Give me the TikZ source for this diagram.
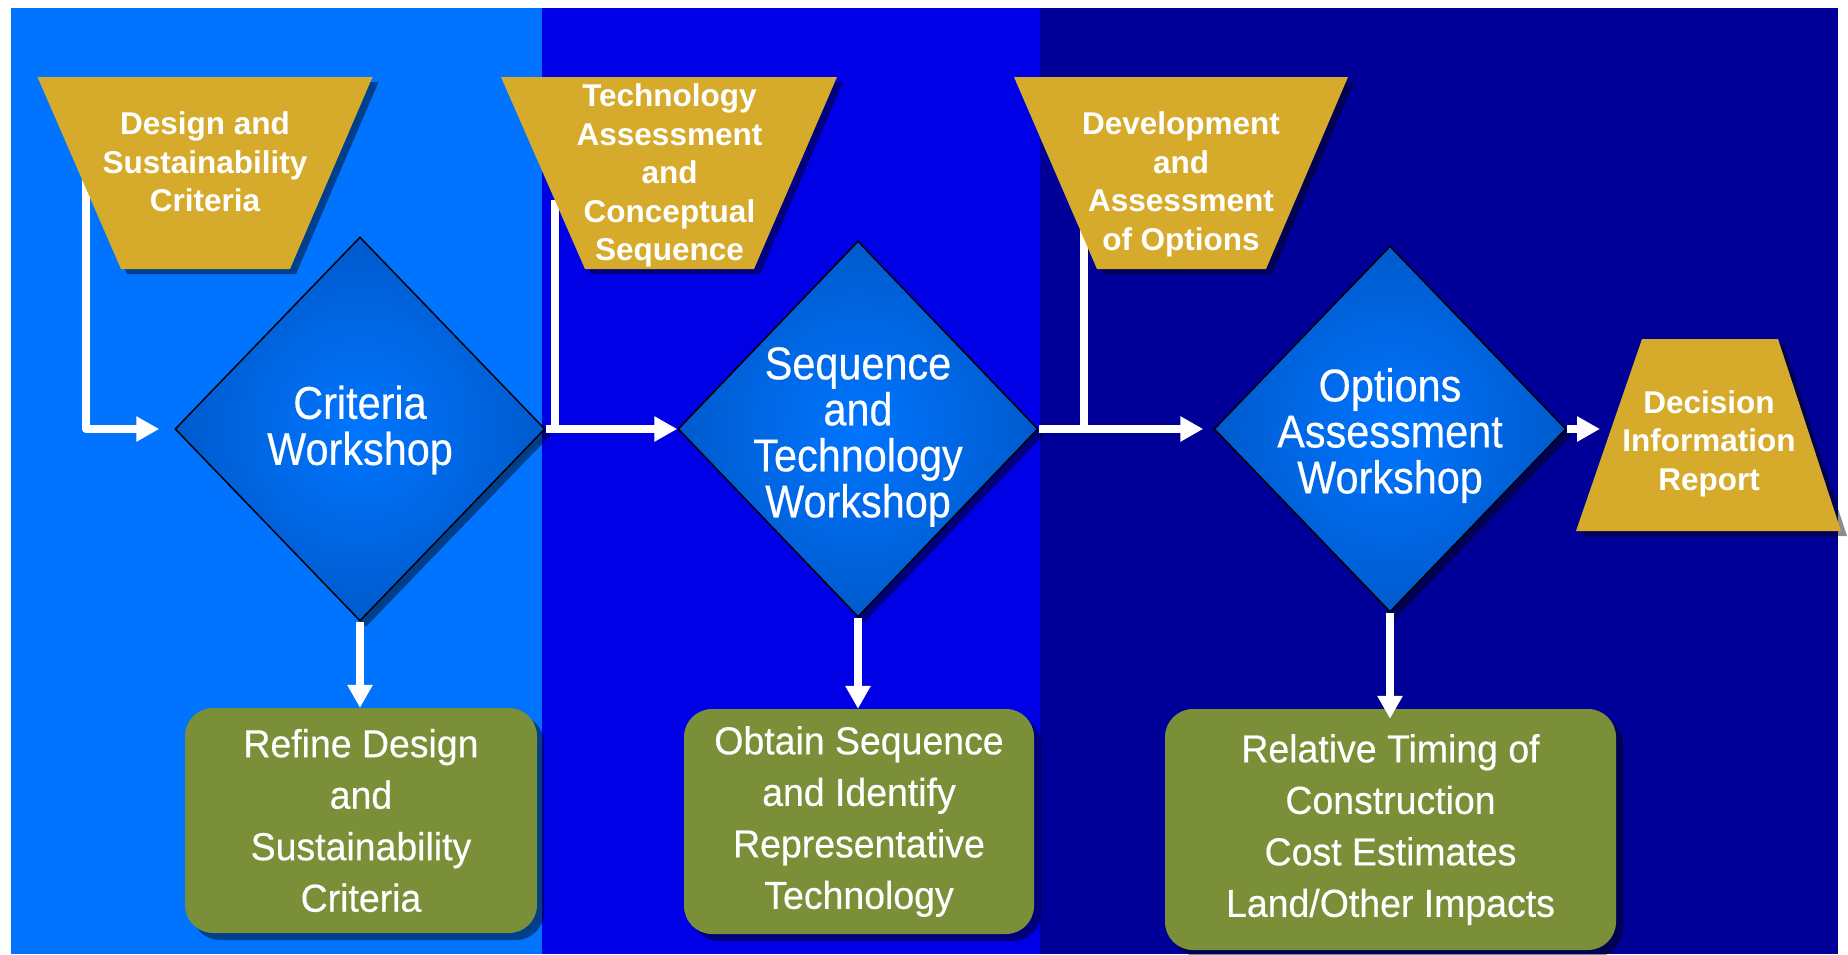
\documentclass[tikz,border=0pt]{standalone}
\usepackage{fontspec}
\setmainfont{Liberation Sans}
\newfontfamily\dfont[FakeStretch=0.9,FakeBold=0.4]{Liberation Sans}
\newfontfamily\gfont[FakeStretch=0.96,FakeBold=0.4]{Liberation Sans}
\usetikzlibrary{shapes.geometric,arrows.meta,shadows}
\definecolor{pone}{RGB}{0,115,255}
\definecolor{ptwo}{RGB}{0,0,230}
\definecolor{pthree}{RGB}{0,0,153}
\definecolor{gold}{RGB}{214,171,43}
\definecolor{olive}{RGB}{122,143,55}
\pgfdeclareradialshading{dshade}{\pgfpoint{0bp}{0bp}}{rgb(0bp)=(0,0.46,1); rgb(36bp)=(0,0.31,0.72); rgb(50bp)=(0,0.31,0.72)}
\pgfdeclarelayer{under}
\pgfsetlayers{under,main}
\begin{document}
\begin{tikzpicture}[x=1pt,y=-1pt,
  tshadow/.style={fill=black, opacity=0.45},
  trapfill/.style={fill=gold},
  traptext/.style={text=white, align=center, inner sep=0pt,
    font=\bfseries\fontsize{31.5}{38.5}\selectfont},
  dia/.style={diamond, draw=black, line width=1.5pt, shade, shading=dshade,
    inner sep=0pt, aspect=1,
    drop shadow={shadow xshift=6pt, shadow yshift=-6pt, opacity=0.45, fill=black}},
  diatext/.style={text=white, align=center, inner sep=0pt,
    font=\dfont\fontsize{46}{46}\selectfont},
  gbox/.style={rectangle, rounded corners=28pt, fill=olive, text=white,
    align=center, inner sep=0pt,
    font=\gfont\fontsize{39}{51.5}\selectfont,
    drop shadow={shadow xshift=7pt, shadow yshift=-7pt, opacity=0.45, fill=black}},
  wline/.style={draw=white, line width=8pt, line join=round},
  warrow/.style={wline, -{Triangle[length=23pt,width=24pt]}}
]
\useasboundingbox (0,0) rectangle (1848,954);

% diamonds (shapes)
\node[dia, minimum width=370pt, minimum height=384pt] (d1) at (360,429) {};
\node[dia, minimum width=360pt, minimum height=376pt] (d2) at (858,429) {};
\node[dia, minimum width=352pt, minimum height=366pt] (d3) at (1390,429) {};

\coordinate (c1) at (86,150);
\coordinate (c2) at (555,200);
\coordinate (c3) at (1084,200);
\coordinate (t4w) at (1610,429);

\begin{pgfonlayer}{under}
  \fill[white] (0,0) rectangle (1848,954);
  \fill[pone] (10.5,8) rectangle (542,954);
  \fill[ptwo] (542,8) rectangle (1040,954);
  \fill[pthree] (1040,8) rectangle (1838,954);
  \draw[warrow, shorten >=15pt] (c1) |- (d1.west);
  \draw[wline] (c2) -- (c2 |- d1.east);
  \draw[wline] (c3) -- (c3 |- d2.east);
\end{pgfonlayer}

% trapezoids
\fill[tshadow, xshift=6pt, yshift=-5pt] (37.5,77) -- (372.5,77) -- (290,269) -- (121,269) -- cycle;
\fill[trapfill] (37.5,77) -- (372.5,77) -- (290,269) -- (121,269) -- cycle;
\fill[tshadow, xshift=6pt, yshift=-5pt] (501,77) -- (837,77) -- (754,269) -- (585,269) -- cycle;
\fill[trapfill] (501,77) -- (837,77) -- (754,269) -- (585,269) -- cycle;
\fill[tshadow, xshift=6pt, yshift=-5pt] (1014,77) -- (1348,77) -- (1266,269) -- (1097,269) -- cycle;
\fill[trapfill] (1014,77) -- (1348,77) -- (1266,269) -- (1097,269) -- cycle;
\fill[tshadow, xshift=6pt, yshift=-5pt] (1642,339) -- (1778,339) -- (1841,531) -- (1576,531) -- cycle;
\fill[trapfill] (1642,339) -- (1778,339) -- (1841,531) -- (1576,531) -- cycle;

\node[traptext] (t1) at (205,162) {Design and\\Sustainability\\Criteria};
\node[traptext] (t2) at (669.5,175.5) {Technology\\Assessment\\and\\Conceptual\\Sequence};
\node[traptext] (t3) at (1181,184.5) {Development\\and\\Assessment\\of Options};
\node[traptext] (t4) at (1709,443.5) {Decision\\Information\\Report};

% diamond texts
\node[diatext] (d1t) at (360,430) {Criteria\\Workshop};
\node[diatext] (d2t) at (858,437) {Sequence\\and\\Technology\\Workshop};
\node[diatext] (d3t) at (1390,435.5) {Options\\Assessment\\Workshop};

% green boxes
\node[gbox, minimum width=352pt, minimum height=225pt] (g1) at (361,820.5)
  {Refine Design\\and\\Sustainability\\Criteria};
\node[gbox, minimum width=350pt, minimum height=225pt] (g2) at (859,821.5)
  {Obtain Sequence\\and Identify\\Representative\\Technology};
\node[gbox, minimum width=451pt, minimum height=241pt] (g3) at (1390.5,829.5)
  {Relative Timing of\\Construction\\Cost Estimates\\Land/Other Impacts};

% arrows
\draw[warrow] (d1.east) -- (d2.west);
\draw[warrow, shorten >=10pt] (d2.east) -- (d3.west);
\draw[warrow, shorten >=10pt] (d3.east) -- (t4w);
\draw[warrow] (d1.south) -- (d1.south |- g1.north);
\draw[warrow] (d2.south) -- (d2.south |- g2.north);
\draw[warrow, shorten >=-10pt] (d3.south) -- (d3.south |- g3.north);
\end{tikzpicture}
\end{document}
